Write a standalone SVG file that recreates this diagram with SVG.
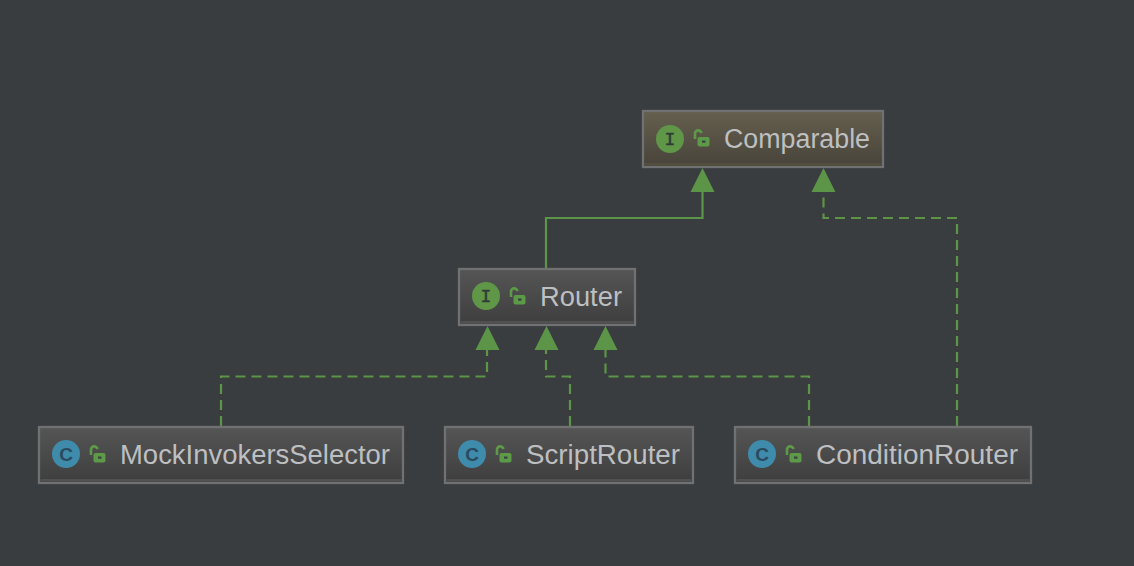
<svg xmlns="http://www.w3.org/2000/svg" width="1134" height="566" viewBox="0 0 1134 566">
<style>
.i{fill:url(#gi);stroke:#6f7173;stroke-width:2.300}
.c{fill:url(#gi);stroke:#6f7173;stroke-width:2.300}
.y{fill:url(#gy);stroke:#6f7173;stroke-width:2.300}
.t{font-family:"Liberation Sans",Arial,sans-serif;font-size:27px;fill:#bdbfc1}
.l{font-family:"Liberation Mono",monospace;font-size:18px;fill:#2f3a34;stroke:#2f3a34;stroke-width:.4;text-anchor:middle}
.lc{font-family:"Liberation Sans",sans-serif;font-size:19px;font-weight:bold;fill:#2b4a60;text-anchor:middle}
.ln{fill:none;stroke:#5c9448;stroke-width:2.200}
.da{stroke-dasharray:10 6}
.ah{fill:#5c9448}
.s{fill:#515151}
.sy{fill:#524e40}
.ci{fill:#5f9647}
.cc{fill:#3f8bab}
</style>
<defs>
<linearGradient id="gy" x1="0" y1="0" x2="0" y2="1"><stop offset="0" stop-color="#655f4e"/><stop offset="1" stop-color="#48433a"/></linearGradient>
<linearGradient id="gi" x1="0" y1="0" x2="0" y2="1"><stop offset="0" stop-color="#555555"/><stop offset="1" stop-color="#3e3e3e"/></linearGradient>
<g id="lock"><path d="M1.500 9V4a3.200 3.200 0 0 1 6.400-.8" fill="none" stroke="#5c9a48" stroke-width="2.600"/><rect x="4" y="7" width="12" height="9.500" rx="2" fill="#5c9a48"/><rect x="8.500" y="10.500" width="3.500" height="2.200" fill="#3c3f41"/></g>
</defs>
<rect width="1134" height="566" fill="#3a3d3f"/>
<g id="connectors">
<path class="ln" d="M546 268V218H702.500V190"/>
<path class="ln da" d="M957 426V218H823.500V192"/>
<path class="ln da" d="M221 426V376.500H487V350"/>
<path class="ln da" d="M570 426V376.500H546V350"/>
<path class="ln da" d="M809 426V376.500H605.500V350"/>
<path class="ah" d="M702.500 168L714.500 192H690.500Z"/>
<path class="ah" d="M823.500 168L835.500 192H811.500Z"/>
<path class="ah" d="M487.500 326L499.500 350H475.500Z"/>
<path class="ah" d="M546.500 326L558.500 350H534.500Z"/>
<path class="ah" d="M605.500 326L617.500 350H593.500Z"/>
</g>
<g id="comparable"><rect class="y" x="643" y="111" width="240" height="56"/><rect class="sy" x="644.500" y="163" width="237" height="2.800"/><circle class="ci" cx="670" cy="139" r="14"/><text class="l" x="670" y="145">I</text><use href="#lock" x="693.500" y="130"/><text class="t" x="724" y="148" textLength="146" lengthAdjust="spacingAndGlyphs">Comparable</text></g>
<g id="router"><rect class="i" x="459" y="269" width="176" height="56"/><rect class="s" x="460.500" y="321" width="173" height="2.800"/><circle class="ci" cx="486" cy="296" r="14"/><text class="l" x="486" y="302">I</text><use href="#lock" x="509.500" y="288"/><text class="t" x="540" y="306" textLength="82" lengthAdjust="spacingAndGlyphs">Router</text></g>
<g id="mock"><rect class="c" x="39" y="427" width="364" height="56"/><rect class="s" x="40.500" y="479" width="361" height="2.800"/><circle class="cc" cx="66" cy="454" r="14"/><text class="lc" x="66" y="461">C</text><use href="#lock" x="89.500" y="446"/><text class="t" x="120" y="464" textLength="270" lengthAdjust="spacingAndGlyphs">MockInvokersSelector</text></g>
<g id="script"><rect class="c" x="445" y="427" width="248" height="56"/><rect class="s" x="446.500" y="479" width="245" height="2.800"/><circle class="cc" cx="472" cy="454" r="14"/><text class="lc" x="472" y="461">C</text><use href="#lock" x="495.500" y="446"/><text class="t" x="526" y="464" textLength="154" lengthAdjust="spacingAndGlyphs">ScriptRouter</text></g>
<g id="condition"><rect class="c" x="735" y="427" width="296" height="56"/><rect class="s" x="736.500" y="479" width="293" height="2.800"/><circle class="cc" cx="762" cy="454" r="14"/><text class="lc" x="762" y="461">C</text><use href="#lock" x="785.500" y="446"/><text class="t" x="816" y="464" textLength="202" lengthAdjust="spacingAndGlyphs">ConditionRouter</text></g>
</svg>
